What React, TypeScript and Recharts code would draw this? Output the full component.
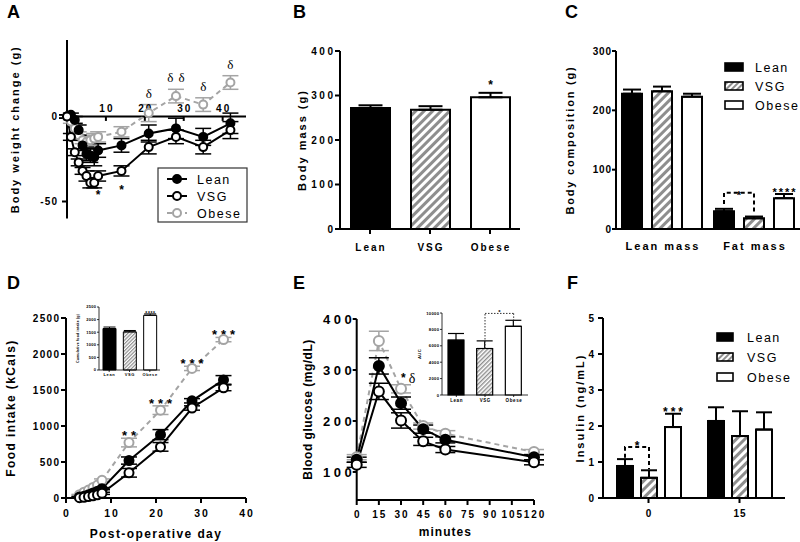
import React from "react";
import {
  LineChart,
  Line,
  BarChart,
  Bar,
  XAxis,
  YAxis,
  ErrorBar,
  Cell,
  LabelList,
  ReferenceLine,
  ReferenceDot,
  Legend,
} from "recharts";

const FONT = "'Liberation Sans', Arial, Helvetica, sans-serif";
const SERIF = "'Liberation Serif', 'DejaVu Serif', serif";
const GRAY = "#a4a4a4";
const STRIPE = "#8e8e8e";

const groups = ["Lean", "VSG", "Obese"];

// A: body weight change
const daysA = [0, 1, 2, 3, 4, 5, 6, 7, 8, 14, 21, 28, 35, 42];
const leanA = [0, 1, -2, -8, -17, -22, -23, -24, -20, -17, -10, -7, -12, -4];
const leanAErr = [1, 1, 2, 3, 3, 4, 4, 5, 4, 4, 5, 6, 5, 6];
const vsgA = [0, -12, -21, -27, -32, -35, -39, -39, -35, -32, -18, -12, -18, -8];
const vsgAErr = [1, 2, 2, 2, 2, 3, 3, 3, 3, 3, 4, 4, 4, 5];
const obeseA = [0, -3, -7, -11, -14, -15, -14, -13, -12, -9, 2, 12, 7, 20];
const obeseAErr = [1, 1, 2, 2, 2, 3, 3, 3, 3, 3, 5, 4, 4, 4];
const obeseAMarks = ["", "", "", "", "", "", "", "", "", "", "δ", "δ δ", "δ", "δ"];
const vsgAMarks = ["", "", "", "", "", "", "", "", "*", "*", "", "", "", ""];
const ticksAX = [10, 20, 30, 40];
const ticksAY = [-50, 0];

// B: body mass
const massB = [272, 268, 296];
const massBErr = [6, 8, 10];
const massBMarks = ["", "", "*"];
const ticksBY = [0, 100, 200, 300, 400];

// C: body composition
const compC = ["Lean mass", "Fat mass"];
const leanC = [228, 30];
const leanCErr = [7, 4];
const vsgC = [232, 18];
const vsgCErr = [8, 3];
const obeseC = [223, 52];
const obeseCErr = [5, 7];
const obeseCMarks = ["", "****"];
const ticksCY = [0, 100, 200, 300];
const bracketC = { index: 1, top: 61, left: 42, right: 29, mark: "*" };

// D: cumulative food intake
const daysD = [3, 4, 5, 6, 7, 8, 14, 21, 28, 35];
const leanD = [15, 25, 45, 70, 95, 130, 520, 880, 1350, 1640];
const leanDErr = [5, 5, 8, 10, 10, 15, 50, 70, 30, 60];
const vsgD = [5, 10, 20, 30, 45, 65, 350, 710, 1250, 1530];
const vsgDErr = [5, 5, 5, 8, 10, 15, 60, 60, 30, 40];
const obeseD = [45, 80, 110, 145, 180, 245, 770, 1220, 1800, 2200];
const obeseDErr = [5, 8, 10, 10, 15, 20, 60, 60, 30, 30];
const obeseDMarks = ["", "", "", "", "", "", "**", "***", "***", "***"];
const ticksDX = [0, 10, 20, 30, 40];
const ticksDY = [0, 500, 1000, 1500, 2000, 2500];
const cumD = [1645, 1513, 2171];
const cumDErr = [60, 55, 55];
const cumDMarks = ["", "", "****"];

// E: glucose tolerance
const minsE = [0, 15, 30, 45, 60, 120];
const leanE = [124, 308, 235, 184, 163, 129];
const leanEErr = [5, 16, 12, 8, 6, 5];
const vsgE = [114, 258, 201, 160, 144, 119];
const vsgEErr = [5, 16, 15, 8, 6, 5];
const obeseE = [129, 357, 263, 190, 175, 139];
const obeseEErr = [5, 19, 8, 6, 6, 5];
const obeseEMarks = ["", "", "*δ", "", "", ""];
const ticksEX = [0, 15, 30, 45, 60, 75, 90, 105, 120];
const ticksEY = [100, 200, 300, 400];
const aucE = [6680, 5670, 8380];
const aucEErr = [820, 930, 730];
const ticksEInY = [0, 2000, 4000, 6000, 8000, 10000];
const bracketETop = 9950;

// F: insulin
const timesF = ["0", "15"];
const leanF = [0.89, 2.14];
const leanFErr = [0.19, 0.38];
const vsgF = [0.56, 1.72];
const vsgFErr = [0.21, 0.69];
const obeseF = [1.97, 1.9];
const obeseFErr = [0.37, 0.48];
const obeseFMarks = ["***", ""];
const ticksFY = [0, 1, 2, 3, 4, 5];
const bracketF = { index: 0, top: 1.42, left: 1.12, right: 0.8, mark: "*" };

const dataA = daysA.map((day, i) => ({
  day,
  lean: leanA[i],
  leanErr: leanAErr[i],
  vsg: vsgA[i],
  vsgErr: vsgAErr[i],
  obese: obeseA[i],
  obeseErr: obeseAErr[i],
}));
const dataB = groups.map((group, i) => ({ group, mass: massB[i], massErr: [0, massBErr[i]] }));
const dataC = compC.map((cat, i) => ({
  cat,
  lean: leanC[i],
  leanErr: [0, leanCErr[i]],
  vsg: vsgC[i],
  vsgErr: [0, vsgCErr[i]],
  obese: obeseC[i],
  obeseErr: [0, obeseCErr[i]],
}));
const dataD = daysD.map((day, i) => ({
  day,
  lean: leanD[i],
  leanErr: leanDErr[i],
  vsg: vsgD[i],
  vsgErr: vsgDErr[i],
  obese: obeseD[i],
  obeseErr: obeseDErr[i],
}));
const dataDIn = groups.map((group, i) => ({ group, cum: cumD[i], cumErr: [0, cumDErr[i]] }));
const dataE = minsE.map((min, i) => ({
  min,
  lean: leanE[i],
  leanErr: leanEErr[i],
  vsg: vsgE[i],
  vsgErr: vsgEErr[i],
  obese: obeseE[i],
  obeseErr: obeseEErr[i],
}));
const dataEIn = groups.map((group, i) => ({ group, auc: aucE[i], aucErr: [0, aucEErr[i]] }));
const dataF = timesF.map((t, i) => ({
  t,
  lean: leanF[i],
  leanErr: [0, leanFErr[i]],
  vsg: vsgF[i],
  vsgErr: [0, vsgFErr[i]],
  obese: obeseF[i],
  obeseErr: [0, obeseFErr[i]],
}));

const AXIS = { stroke: "#000", strokeWidth: 2 };
const AXIS_THIN = { stroke: "#000", strokeWidth: 0.8 };

const lineStyles: Record<string, { stroke: string; fill: string; dash?: string }> = {
  lean: { stroke: "#000", fill: "#000" },
  vsg: { stroke: "#000", fill: "#fff" },
  obese: { stroke: GRAY, fill: "#fff", dash: "5 4" },
};
const barFill = (i: number, hatch: string) => (i === 0 ? "#000" : i === 1 ? `url(#${hatch})` : "#fff");

const yTick = (size: number, spacing: number) => (p: any) => (
  <text
    x={p.x + spacing}
    y={p.y}
    dy="0.36em"
    textAnchor="end"
    fontFamily={FONT}
    fontSize={size}
    fontWeight={700}
    letterSpacing={spacing}
    fill="#000"
  >
    {p.payload.value}
  </text>
);

const xTick = (size: number, spacing: number) => (p: any) => (
  <text
    x={p.x + spacing / 2}
    y={p.y}
    dy="0.75em"
    textAnchor="middle"
    fontFamily={FONT}
    fontSize={size}
    fontWeight={700}
    letterSpacing={spacing}
    fill="#000"
  >
    {p.payload.value}
  </text>
);

const titleStyle = (size: number, spacing: number) => ({
  textAnchor: "middle" as const,
  fontSize: size,
  fontWeight: 700,
  letterSpacing: `${spacing}px`,
  fill: "#000",
  fontFamily: FONT,
});

const yTitle = (value: string, size: number, spacing: number, offset: number) => ({
  value,
  angle: -90,
  position: "insideLeft" as const,
  offset,
  style: titleStyle(size, spacing),
});

const xTitle = (value: string, size: number, spacing: number) => ({
  value,
  position: "insideBottom" as const,
  offset: 0,
  style: titleStyle(size, spacing),
});

// text drawn at a reference point placed through the chart scales
const markShape =
  (text: string, dy: number, size: number, spacing: number, serif = false) =>
  (p: any) => (
    <text
      x={p.cx + spacing / 2}
      y={p.cy + dy}
      textAnchor="middle"
      fontFamily={serif ? SERIF : FONT}
      fontWeight={serif ? 400 : 700}
      fontSize={size}
      letterSpacing={spacing}
      fill="#000"
    >
      {text}
    </text>
  );

const starDeltaShape = (p: any) => (
  <text x={p.cx} y={p.cy - 3} fontFamily={FONT} fontWeight={700} fontSize={12} fill="#000">
    *
    <tspan dx={3} dy={1} fontFamily={SERIF} fontWeight={400} fontSize={14}>
      δ
    </tspan>
  </text>
);

const barBox = (props: any) => {
  const vb = props.viewBox ?? props;
  const v = Number(props.value);
  const k = v ? vb.height / v : 0;
  const base = vb.y + vb.height;
  return { vb, yv: (n: number) => base - n * k };
};

const barMarks =
  (marks: string[], errs: number[], size: number, spacing: number, gap: number) => (props: any) => {
    const mark = marks[props.index];
    if (!mark) return null;
    const { vb, yv } = barBox(props);
    const v = Number(props.value);
    return (
      <text
        x={vb.x + vb.width / 2 + spacing / 2}
        y={yv(v + errs[props.index]) - gap}
        textAnchor="middle"
        fontFamily={FONT}
        fontWeight={700}
        fontSize={size}
        letterSpacing={spacing}
        fill="#000"
      >
        {mark}
      </text>
    );
  };

type Bracket = { index: number; top: number; left: number; right: number; mark: string };
const bracketLabel = (b: Bracket, step: number, size: number, markDy: number) => (props: any) => {
  if (props.index !== b.index) return null;
  const { vb, yv } = barBox(props);
  const rx = vb.x + vb.width / 2;
  const lx = rx - step;
  const top = yv(b.top);
  return (
    <g>
      <path
        d={`M${lx},${yv(b.left)}V${top}H${rx}V${yv(b.right)}`}
        fill="none"
        stroke="#000"
        strokeWidth={2}
        strokeDasharray="4 3"
      />
      <text x={(lx + rx) / 2} y={top + markDy} textAnchor="middle" fontFamily={FONT} fontWeight={700} fontSize={size} fill="#000">
        {b.mark}
      </text>
    </g>
  );
};

const hatchDef = (id: string, size: number, stripe: number) => (
  <pattern id={id} patternUnits="userSpaceOnUse" width={size} height={size} patternTransform="rotate(45)">
    <rect width={size} height={size} fill="#fff" />
    <rect x={0} width={stripe} height={size} fill={STRIPE} />
  </pattern>
);

const groupLines = (r: number, cap: number) =>
  ["obese", "lean", "vsg"].map((key) => {
    const s = lineStyles[key];
    return (
      <Line
        key={key}
        dataKey={key}
        type="linear"
        stroke={s.stroke}
        strokeWidth={2}
        strokeDasharray={s.dash}
        dot={{ r, fill: s.fill, stroke: s.stroke, strokeWidth: 2, strokeDasharray: "none" }}
        activeDot={false}
        isAnimationActive={false}
      >
        <ErrorBar dataKey={`${key}Err`} width={cap} stroke={s.stroke} strokeWidth={1.5} direction="y" />
      </Line>
    );
  });

function LineLegend() {
  return (
    <svg width={92} height={56} style={{ display: "block" }}>
      <rect x={1} y={1} width={89} height={54} fill="#fff" stroke="#333" strokeWidth={1.2} />
      {["lean", "vsg", "obese"].map((key, i) => {
        const s = lineStyles[key];
        const y = 12 + i * 17;
        return (
          <g key={key}>
            <line x1={10} x2={30} y1={y} y2={y} stroke={s.stroke} strokeWidth={2} strokeDasharray={s.dash} />
            <circle cx={20} cy={y} r={4} fill={s.fill} stroke={s.stroke} strokeWidth={2} />
            <text x={40} y={y} dy="0.36em" fontFamily={FONT} fontSize={12.5} letterSpacing={1.5} fill="#000">
              {groups[i]}
            </text>
          </g>
        );
      })}
    </svg>
  );
}

function BarLegend({ id, swatch, gap }: { id: string; swatch: number; gap: number }) {
  return (
    <svg width={80} height={60} style={{ display: "block", overflow: "visible" }}>
      <defs>{hatchDef(id, 4, 2)}</defs>
      {groups.map((g, i) => {
        const y = 10 + i * gap;
        return (
          <g key={g}>
            <rect x={2} y={y - 4} width={swatch} height={8} fill={barFill(i, id)} stroke="#000" strokeWidth={1.6} />
            <text x={32} y={y} dy="0.36em" fontFamily={FONT} fontSize={12.5} letterSpacing={1.5} fill="#000">
              {g}
            </text>
          </g>
        );
      })}
    </svg>
  );
}

function PanelA() {
  return (
    <div style={{ position: "absolute", left: 0, top: 0 }}>
      <LineChart width={270} height={260} data={dataA} margin={{ top: 40, right: 24, bottom: 41.5, left: 8 }}>
        <XAxis dataKey="day" type="number" domain={[0, 46]} hide />
        <YAxis
          type="number"
          domain={[-60, 45]}
          ticks={ticksAY}
          interval={0}
          width={59}
          axisLine={AXIS}
          tickLine={AXIS}
          tickSize={5}
          tickMargin={5}
          tick={yTick(10, 1.2)}
          label={yTitle("Body weight change (g)", 11, 2, 7)}
        />
        <ReferenceLine y={0} stroke="#000" strokeWidth={2} />
        {ticksAX.map((t) => (
          <ReferenceLine key={`tk${t}`} segment={[{ x: t, y: 0 }, { x: t, y: -2.6 }]} stroke="#000" strokeWidth={2} />
        ))}
        {ticksAX.map((t) => (
          <ReferenceDot key={`tl${t}`} x={t} y={0} r={0} shape={markShape(String(t), -5, 10, 2)} />
        ))}
        {groupLines(4, 8)}
        {daysA.map((d, i) =>
          obeseAMarks[i] ? (
            <ReferenceDot
              key={`om${d}`}
              x={d}
              y={obeseA[i] + obeseAErr[i]}
              r={0}
              shape={markShape(obeseAMarks[i], -7, 13, 1, true)}
            />
          ) : null
        )}
        {daysA.map((d, i) =>
          vsgAMarks[i] ? (
            <ReferenceDot key={`vm${d}`} x={d} y={vsgA[i] - vsgAErr[i]} r={0} shape={markShape(vsgAMarks[i], 18, 12, 0)} />
          ) : null
        )}
        <Legend
          layout="vertical"
          align="center"
          verticalAlign="middle"
          wrapperStyle={{ position: "absolute", left: 157, top: 167, width: 92, height: 56 }}
          content={() => <LineLegend />}
        />
      </LineChart>
    </div>
  );
}

function PanelB() {
  return (
    <div style={{ position: "absolute", left: 270, top: 0 }}>
      <BarChart width={270} height={260} data={dataB} margin={{ top: 51, right: 20, bottom: 9, left: 25 }}>
        <defs>{hatchDef("hatchB", 6, 3)}</defs>
        <XAxis
          dataKey="group"
          height={22}
          interval={0}
          axisLine={AXIS}
          tickLine={AXIS}
          tickSize={5}
          tickMargin={9}
          tick={xTick(10, 2)}
        />
        <YAxis
          domain={[0, 400]}
          ticks={ticksBY}
          interval={0}
          width={45}
          axisLine={AXIS}
          tickLine={AXIS}
          tickSize={5}
          tickMargin={2}
          tick={yTick(10, 2.5)}
          label={yTitle("Body mass (g)", 11, 2, 7)}
        />
        <Bar dataKey="mass" barSize={39} stroke="#000" strokeWidth={2} isAnimationActive={false}>
          {groups.map((g, i) => (
            <Cell key={g} fill={barFill(i, "hatchB")} />
          ))}
          <ErrorBar dataKey="massErr" width={12} stroke="#000" strokeWidth={2} direction="y" />
          <LabelList dataKey="mass" content={barMarks(massBMarks, massBErr, 12, 0, 3.5)} />
        </Bar>
      </BarChart>
    </div>
  );
}

function PanelC() {
  return (
    <div style={{ position: "absolute", left: 530, top: 0 }}>
      <BarChart
        width={270}
        height={260}
        data={dataC}
        barSize={20}
        barGap={10}
        margin={{ top: 51, right: 0, bottom: 9, left: 33 }}
      >
        <defs>{hatchDef("hatchC", 6, 3)}</defs>
        <XAxis
          dataKey="cat"
          height={22}
          interval={0}
          axisLine={AXIS}
          tickLine={false}
          tickSize={0}
          tickMargin={13}
          tick={xTick(11, 2)}
        />
        <YAxis
          domain={[0, 300]}
          ticks={ticksCY}
          interval={0}
          width={53}
          axisLine={AXIS}
          tickLine={AXIS}
          tickSize={4}
          tickMargin={1}
          tick={yTick(10, 0.8)}
          label={yTitle("Body composition (g)", 11, 1.8, 7)}
        />
        {["lean", "vsg", "obese"].map((key, i) => (
          <Bar key={key} dataKey={key} fill={barFill(i, "hatchC")} stroke="#000" strokeWidth={2} isAnimationActive={false}>
            <ErrorBar dataKey={`${key}Err`} width={9} stroke="#000" strokeWidth={2} direction="y" />
            {key === "vsg" && <LabelList dataKey="vsg" content={bracketLabel(bracketC, 30, 11, 6)} />}
            {key === "obese" && <LabelList dataKey="obese" content={barMarks(obeseCMarks, obeseCErr, 11, 2, -2.4)} />}
          </Bar>
        ))}
        <Legend
          layout="vertical"
          align="center"
          verticalAlign="middle"
          wrapperStyle={{ position: "absolute", left: 193, top: 57, width: 80, height: 60 }}
          content={() => <BarLegend id="hatchLegC" swatch={18} gap={19} />}
        />
      </BarChart>
    </div>
  );
}

function PanelD() {
  return (
    <>
      <div style={{ position: "absolute", left: 0, top: 270 }}>
        <LineChart width={270} height={272} data={dataD} margin={{ top: 48, right: 24, bottom: 4, left: 4 }}>
          <XAxis
            dataKey="day"
            type="number"
            domain={[0, 40]}
            ticks={ticksDX}
            interval={0}
            height={40}
            axisLine={AXIS}
            tickLine={AXIS}
            tickSize={5}
            tickMargin={6}
            tick={xTick(10.5, 2)}
            label={xTitle("Post-operative day", 12, 1.4)}
          />
          <YAxis
            type="number"
            domain={[0, 2500]}
            ticks={ticksDY}
            interval={0}
            width={62}
            axisLine={AXIS}
            tickLine={AXIS}
            tickSize={5}
            tickMargin={2}
            tick={yTick(10, 1.3)}
            label={yTitle("Food intake (kCals)", 12, 1.4, 7)}
          />
          {groupLines(4.5, 8)}
          {daysD.map((d, i) =>
            obeseDMarks[i] ? (
              <ReferenceDot key={`dm${d}`} x={d} y={obeseD[i] + obeseDErr[i]} r={0} shape={markShape(obeseDMarks[i], 2, 13, 4)} />
            ) : null
          )}
        </LineChart>
      </div>
      <div style={{ position: "absolute", left: 72, top: 300 }}>
        <BarChart width={90} height={80} data={dataDIn} margin={{ top: 7, right: 2, bottom: 0, left: 4 }}>
          <defs>{hatchDef("hatchDIn", 2.5, 1.2)}</defs>
          <XAxis
            dataKey="group"
            height={10}
            interval={0}
            axisLine={AXIS_THIN}
            tickLine={AXIS_THIN}
            tickSize={2}
            tickMargin={1.4}
            tick={xTick(4, 0.6)}
          />
          <YAxis
            domain={[0, 2500]}
            ticks={ticksDY}
            interval={0}
            width={23}
            axisLine={AXIS_THIN}
            tickLine={AXIS_THIN}
            tickSize={2}
            tickMargin={1}
            tick={yTick(4, 0.3)}
            label={yTitle("Cumulative food intake (g)", 3.5, 0.2, 2)}
          />
          <Bar dataKey="cum" barSize={13} stroke="#000" strokeWidth={1} isAnimationActive={false}>
            {groups.map((g, i) => (
              <Cell key={g} fill={barFill(i, "hatchDIn")} />
            ))}
            <ErrorBar dataKey="cumErr" width={6} stroke="#000" strokeWidth={1} direction="y" />
            <LabelList dataKey="cum" content={barMarks(cumDMarks, cumDErr, 5, 0.6, -0.8)} />
          </Bar>
        </BarChart>
      </div>
    </>
  );
}

function PanelE() {
  return (
    <>
      <div style={{ position: "absolute", left: 270, top: 270 }}>
        <LineChart width={284} height={272} data={dataE} margin={{ top: 49, right: 20, bottom: 6, left: 31 }}>
          <XAxis
            dataKey="min"
            type="number"
            domain={[0, 120]}
            ticks={ticksEX}
            interval={0}
            height={36}
            axisLine={AXIS}
            tickLine={AXIS}
            tickSize={5}
            tickMargin={5}
            tick={xTick(10, 2)}
            label={xTitle("minutes", 12, 1)}
          />
          <YAxis
            type="number"
            domain={[45, 400]}
            ticks={ticksEY}
            interval={0}
            width={55.7}
            axisLine={AXIS}
            tickLine={AXIS}
            tickSize={4}
            tickMargin={1}
            tick={yTick(13, 3.5)}
            label={yTitle("Blood glucose (mg/dL)", 12, 0.5, 7)}
          />
          {groupLines(5, 10)}
          {minsE.map((m, i) =>
            obeseEMarks[i] ? (
              <ReferenceDot key={`em${m}`} x={m} y={obeseE[i] + obeseEErr[i]} r={0} shape={starDeltaShape} />
            ) : null
          )}
        </LineChart>
      </div>
      <div style={{ position: "absolute", left: 412, top: 305 }}>
        <BarChart width={122} height={102} data={dataEIn} margin={{ top: 8, right: 6, bottom: 0, left: 4 }}>
          <defs>{hatchDef("hatchEIn", 3, 1.4)}</defs>
          <XAxis
            dataKey="group"
            height={12}
            interval={0}
            axisLine={AXIS_THIN}
            tickLine={AXIS_THIN}
            tickSize={2}
            tickMargin={1.2}
            tick={xTick(4.5, 0.6)}
          />
          <YAxis
            domain={[0, 10000]}
            ticks={ticksEInY}
            interval={0}
            width={26}
            axisLine={AXIS_THIN}
            tickLine={AXIS_THIN}
            tickSize={2}
            tickMargin={1}
            tick={yTick(4.2, 0.3)}
            label={yTitle("AUC", 4.2, 0.3, 4)}
          />
          <Bar dataKey="auc" barSize={16} stroke="#000" strokeWidth={1.2} isAnimationActive={false}>
            {groups.map((g, i) => (
              <Cell key={g} fill={barFill(i, "hatchEIn")} />
            ))}
            <ErrorBar dataKey="aucErr" width={8} stroke="#000" strokeWidth={1.2} direction="y" />
          </Bar>
          <ReferenceLine
            segment={[{ x: "VSG", y: aucE[1] }, { x: "VSG", y: bracketETop }]}
            stroke="#333"
            strokeWidth={1}
            strokeDasharray="1.5 1.5"
          />
          <ReferenceLine
            segment={[{ x: "VSG", y: bracketETop }, { x: "Obese", y: bracketETop }]}
            stroke="#333"
            strokeWidth={1}
            strokeDasharray="1.5 1.5"
            label={{ value: "*", position: "top", offset: -1, style: { fontSize: 6, fontWeight: 700, fill: "#000", fontFamily: FONT } }}
          />
          <ReferenceLine
            segment={[{ x: "Obese", y: bracketETop }, { x: "Obese", y: aucE[2] + aucEErr[2] }]}
            stroke="#333"
            strokeWidth={1}
            strokeDasharray="1.5 1.5"
          />
        </BarChart>
      </div>
    </>
  );
}

function PanelF() {
  return (
    <div style={{ position: "absolute", left: 530, top: 270 }}>
      <BarChart
        width={270}
        height={272}
        data={dataF}
        barSize={16}
        barGap={8}
        margin={{ top: 48, right: 15, bottom: 22, left: 43 }}
      >
        <defs>{hatchDef("hatchF", 6, 3)}</defs>
        <XAxis
          dataKey="t"
          height={22}
          interval={0}
          axisLine={AXIS}
          tickLine={AXIS}
          tickSize={5}
          tickMargin={6}
          tick={xTick(10, 1)}
        />
        <YAxis
          domain={[0, 5]}
          ticks={ticksFY}
          interval={0}
          width={30}
          axisLine={AXIS}
          tickLine={AXIS}
          tickSize={5}
          tickMargin={4}
          tick={yTick(10, 1)}
          label={yTitle("Insulin (ng/mL)", 11, 2, 7)}
        />
        {["lean", "vsg", "obese"].map((key, i) => (
          <Bar key={key} dataKey={key} fill={barFill(i, "hatchF")} stroke="#000" strokeWidth={2} isAnimationActive={false}>
            <ErrorBar dataKey={`${key}Err`} width={8} stroke="#000" strokeWidth={2} direction="y" />
            {key === "vsg" && <LabelList dataKey="vsg" content={bracketLabel(bracketF, 24, 12, 3)} />}
            {key === "obese" && <LabelList dataKey="obese" content={barMarks(obeseFMarks, obeseFErr, 12, 3, -2.2)} />}
          </Bar>
        ))}
        <Legend
          layout="vertical"
          align="center"
          verticalAlign="middle"
          wrapperStyle={{ position: "absolute", left: 185, top: 57, width: 80, height: 60 }}
          content={() => <BarLegend id="hatchLegF" swatch={16} gap={20} />}
        />
      </BarChart>
    </div>
  );
}

const panelLetters = [
  { id: "A", x: 7, y: 18 },
  { id: "B", x: 293, y: 18 },
  { id: "C", x: 565, y: 18 },
  { id: "D", x: 7, y: 289 },
  { id: "E", x: 293, y: 289 },
  { id: "F", x: 567, y: 289 },
];

export default function App() {
  return (
    <div
      style={{
        position: "absolute",
        left: 0,
        top: 0,
        width: 800,
        height: 542,
        background: "#fff",
        overflow: "hidden",
        fontFamily: FONT,
      }}
    >
      <PanelA />
      <PanelB />
      <PanelC />
      <PanelD />
      <PanelE />
      <PanelF />
      <svg width={800} height={542} style={{ position: "absolute", left: 0, top: 0, pointerEvents: "none" }}>
        {panelLetters.map((p) => (
          <text key={p.id} x={p.x} y={p.y} fontFamily={FONT} fontWeight={700} fontSize={18} fill="#000">
            {p.id}
          </text>
        ))}
      </svg>
    </div>
  );
}
